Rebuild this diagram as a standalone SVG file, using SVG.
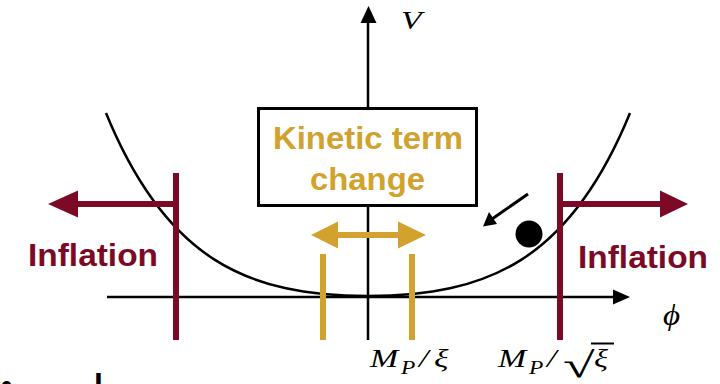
<svg xmlns="http://www.w3.org/2000/svg" width="720" height="384" viewBox="0 0 720 384">
<style>
.ax{stroke:#000;stroke-width:2.5;fill:none}
.red{stroke:#7C0A26;stroke-width:6;fill:none}
.redf{fill:#7C0A26}
.gold{stroke:#D1A22E;stroke-width:6;fill:none}
.goldf{fill:#D1A22E}
.lbl{font-family:"Liberation Sans",Arial,sans-serif;font-weight:bold}
.math{font-family:"Liberation Serif","Times New Roman",serif;font-style:italic;fill:#000}
</style>
<rect width="720" height="384" fill="#fff"/>
<g id="curve">
<path class="ax" d="M106,113 C166,260 248,296 368,296 C488,296 570,260 630,113"/>
</g>
<g id="connectors">
<line class="ax" x1="368" y1="340" x2="368" y2="20"/>
<polygon points="368.5,6 360.5,23 376.5,23" fill="#000"/>
<line class="ax" x1="107" y1="297" x2="615" y2="297"/>
<polygon points="630,297 613,289.5 613,304.5" fill="#000"/>
<line stroke="#000" stroke-width="3" x1="528" y1="194" x2="492" y2="219"/>
<polygon points="483,226.5 489,212 497,224" fill="#000"/>
</g>
<g id="box">
<rect x="258.5" y="108.5" width="218" height="97" fill="#fff" stroke="#000" stroke-width="3"/>
<text class="lbl" x="273" y="149" font-size="31" fill="#D1A22E" textLength="190" lengthAdjust="spacingAndGlyphs">Kinetic term</text>
<text class="lbl" x="310" y="190" font-size="31" fill="#D1A22E" textLength="115" lengthAdjust="spacingAndGlyphs">change</text>
</g>
<g id="gold-arrow">
<line class="gold" x1="336" y1="235" x2="400" y2="235"/>
<polygon class="goldf" points="311,235 338,221.5 338,248.5"/>
<polygon class="goldf" points="426,235 398,221.5 398,248.5"/>
</g>
<g id="gold-lines">
<line class="gold" x1="323" y1="254" x2="323" y2="340"/>
<line class="gold" x1="412" y1="254" x2="412" y2="340"/>
</g>
<g id="left-inflation">
<line class="red" x1="176" y1="173" x2="176" y2="340"/>
<line class="red" x1="179" y1="204" x2="76" y2="204"/>
<polygon class="redf" points="48,204 78,190.5 78,217.5"/>
<text class="lbl" x="28" y="266" font-size="32" fill="#7C0A26" textLength="130" lengthAdjust="spacingAndGlyphs">Inflation</text>
</g>
<g id="right-inflation">
<line class="red" x1="560" y1="173" x2="560" y2="340"/>
<line class="red" x1="557" y1="204" x2="662" y2="204"/>
<polygon class="redf" points="688,204 660,190.5 660,217.5"/>
<text class="lbl" x="578" y="268" font-size="32" fill="#7C0A26" textLength="130" lengthAdjust="spacingAndGlyphs">Inflation</text>
</g>
<g id="ball">
<circle cx="529" cy="234" r="13.5" fill="#000"/>
</g>
<g id="labels">
<text class="math" font-size="25" transform="translate(401,29) scale(1.35,1)">V</text>
<text class="math" font-size="30" transform="translate(663,325) scale(1.1,1)">ϕ</text>
<text class="math" font-size="26" transform="translate(370,367) scale(1.3,1)">M</text>
<text class="math" font-size="18" transform="translate(401,374) scale(1.3,1)">P</text>
<text class="math" font-size="26" transform="translate(419,367) scale(1.3,1)">/</text>
<text class="math" font-size="26" transform="translate(434,367) scale(1.3,1)">ξ</text>
<text class="math" font-size="26" transform="translate(498,367) scale(1.3,1)">M</text>
<text class="math" font-size="18" transform="translate(529,374) scale(1.3,1)">P</text>
<text class="math" font-size="26" transform="translate(547,367) scale(1.3,1)">/</text>
<text font-family="Liberation Serif,'DejaVu Serif',serif" font-size="34" fill="#000" transform="translate(563,377) scale(1.7,1.05)">√</text>
<line x1="591" y1="343.5" x2="614" y2="343.5" stroke="#000" stroke-width="2"/>
<text class="math" font-size="26" transform="translate(594,367) scale(1.25,1)">ξ</text>
</g>
<g id="cut-text">
<text class="lbl" x="1" y="396" font-size="32" fill="#000">•</text>
<text class="lbl" x="94" y="396" font-size="32" fill="#000">l</text>
</g>
</svg>
